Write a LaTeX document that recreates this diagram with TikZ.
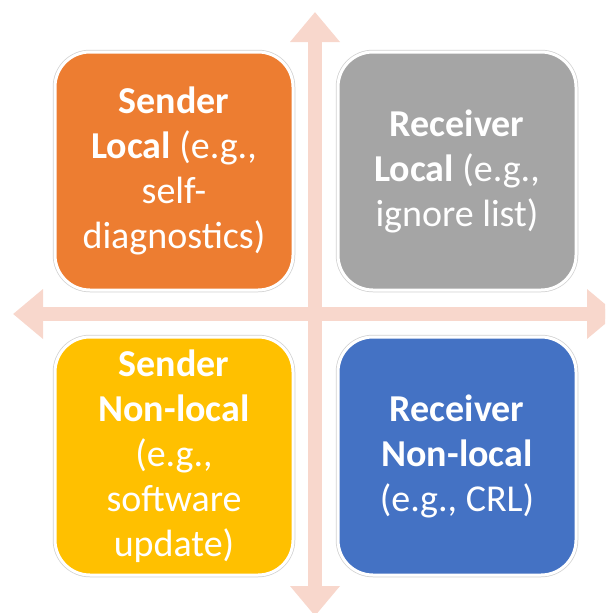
\documentclass[tikz,border=0pt]{standalone}
\usepackage{fontspec}
\setmainfont{Carlito}
\usepackage{tikz}
\usetikzlibrary{arrows.meta}
\definecolor{orangebox}{HTML}{ED7D31}
\definecolor{graybox}{HTML}{A5A5A5}
\definecolor{yellowbox}{HTML}{FFC000}
\definecolor{bluebox}{HTML}{4472C4}
\definecolor{axis}{HTML}{F8D7CC}
\tikzset{
  quad/.style={minimum width=238pt, minimum height=238pt, rounded corners=35pt,
    text=white, align=center, font=\fontsize{38}{45}\selectfont,
    draw=white, line width=3pt, preaction={draw=black!18, line width=4.5pt}},
  axisline/.style={draw=axis, line width=14pt,
    {Triangle[length=30pt,width=48pt]}-{Triangle[length=30pt,width=48pt]}},
}

\begin{document}
\begin{tikzpicture}[x=1pt,y=-1pt]
\useasboundingbox (0,0) rectangle (605,613);
\clip (0,0) rectangle (605,613);
% axes
\coordinate (west) at (13,314);
\coordinate (east) at (617,314);
\coordinate (north) at (315,12);
\coordinate (south) at (315,616);
\draw[axisline] (west) -- (east);
\draw[axisline] (north) -- (south);

% quadrants
\node[quad, fill=orangebox] (senderlocal) at (174,171)
  {\textbf{Sender}\\\textbf{Local} (e.g.,\\self-\\diagnostics)};
\node[quad, fill=graybox] (receiverlocal) at (457,171)
  {\textbf{Receiver}\\\textbf{Local} (e.g.,\\ignore list)};
\node[quad, fill=yellowbox] (sendernonlocal) at (174,456)
  {\textbf{Sender}\\\textbf{Non-local}\\(e.g.,\\software\\update)};
\node[quad, fill=bluebox] (receivernonlocal) at (457,456)
  {\textbf{Receiver}\\\textbf{Non-local}\\(e.g., CRL)};
\end{tikzpicture}
\end{document}
